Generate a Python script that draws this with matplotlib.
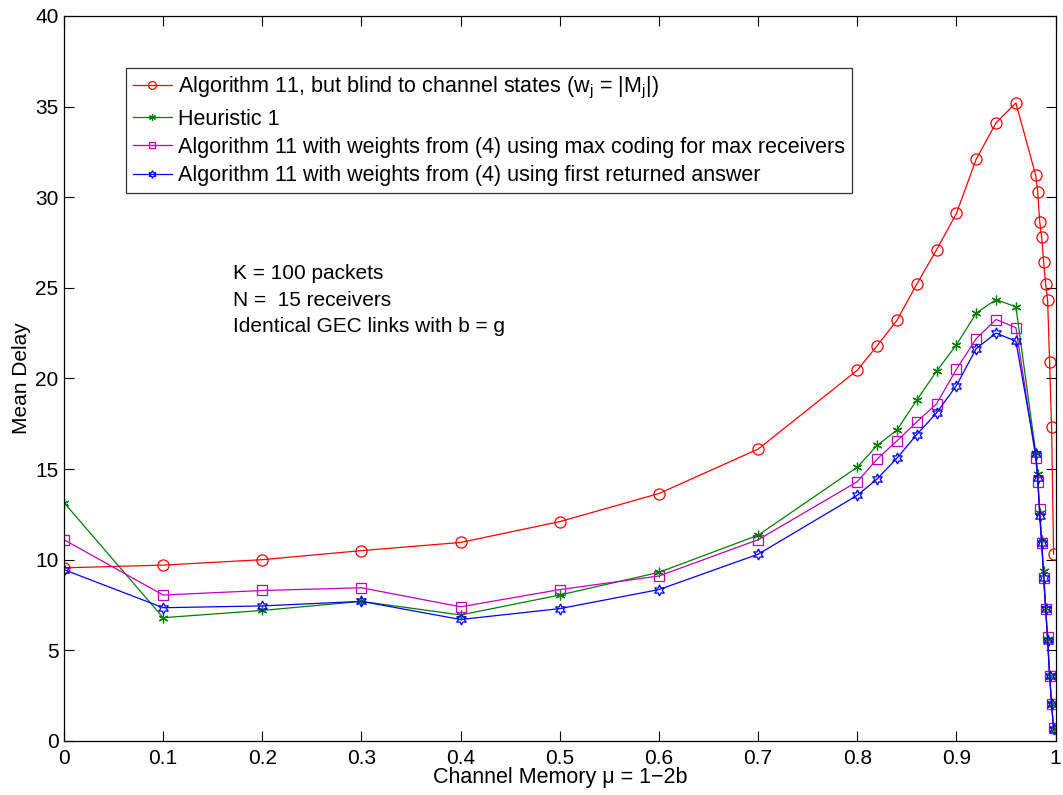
import matplotlib
matplotlib.use('Agg')
import matplotlib.pyplot as plt
import numpy as np

plt.rcParams['font.family'] = ['Liberation Sans', 'DejaVu Sans']
plt.rcParams['mathtext.fontset'] = 'custom'
plt.rcParams['mathtext.rm'] = 'Liberation Sans'
plt.rcParams['mathtext.it'] = 'Liberation Sans'

# channel memory values
mu = [0, 0.1, 0.2, 0.3, 0.4, 0.5, 0.6, 0.7, 0.8, 0.82, 0.84, 0.86, 0.88,
      0.9, 0.92, 0.94, 0.96, 0.98, 0.982, 0.984, 0.986, 0.988, 0.99,
      0.992, 0.994, 0.996, 0.998]

blind = [9.55, 9.7, 10.0, 10.5, 10.95, 12.1, 13.65, 16.1, 20.45, 21.8, 23.2,
         25.2, 27.1, 29.1, 32.1, 34.1, 35.2, 31.2, 30.3, 28.65, 27.8, 26.4,
         25.2, 24.3, 20.9, 17.3, 10.3]
heur = [13.15, 6.8, 7.2, 7.7, 6.95, 8.05, 9.3, 11.35, 15.1, 16.3, 17.15,
        18.8, 20.4, 21.85, 23.6, 24.35, 23.95, 15.9, 14.7, 12.6, 11.1, 9.35,
        7.35, 5.6, 3.6, 2.05, 0.65]
maxcod = [11.1, 8.05, 8.3, 8.45, 7.4, 8.35, 9.1, 11.1, 14.3, 15.55, 16.55,
          17.6, 18.6, 20.5, 22.2, 23.25, 22.8, 15.6, 14.3, 12.8, 10.9, 9.0,
          7.3, 5.75, 3.6, 2.05, 0.7]
first = [9.45, 7.35, 7.45, 7.7, 6.7, 7.3, 8.35, 10.3, 13.55, 14.45, 15.6,
         16.9, 18.1, 19.6, 21.65, 22.5, 22.05, 15.85, 14.5, 12.4, 10.9, 9.0,
         7.3, 5.5, 3.6, 2.05, 0.65]

labels = ['Algorithm 11, but blind to channel states (w$_\\mathregular{j}$ = |M$_\\mathregular{j}$|)',
          'Heuristic 1',
          'Algorithm 11 with weights from (4) using max coding for max receivers',
          'Algorithm 11 with weights from (4) using first returned answer']

fig = plt.figure(figsize=(10.63, 7.95), dpi=100)
ax = fig.add_axes([0.0602, 0.068, 0.9328, 0.912])

lw = 0.9
ax.plot(mu, blind, color='#ff0000', lw=lw, marker='o', ms=8, mfc='none',
        mew=0.9, label=labels[0])
ax.plot(mu, heur, color='#008000', lw=lw, marker=(6, 2, 0), ms=7,
        mew=0.9, label=labels[1])
ax.plot(mu, maxcod, color='#bf00bf', lw=lw, marker='s', ms=7, mfc='none',
        mew=0.9, label=labels[2])
ax.plot(mu, first, color='#0000ff', lw=lw, marker=(6, 1, 0), ms=8, mfc='none',
        mew=0.9, label=labels[3])

ax.set_xlim(0, 1)
ax.set_ylim(0, 40)
ax.set_xticks(np.arange(0, 1.01, 0.1))
ax.set_xticklabels(['0', '0.1', '0.2', '0.3', '0.4', '0.5', '0.6', '0.7',
                    '0.8', '0.9', '1'])
ax.set_yticks(np.arange(0, 41, 5))
ax.tick_params(direction='in', top=True, right=True, labelsize=15,
               length=7, width=0.8)
ax.tick_params(axis='x', pad=6)
ax.tick_params(axis='y', pad=4)
for s in ax.spines.values():
    s.set_linewidth(0.9)

ax.set_xlabel('Channel Memory μ = 1\u22122b', fontsize=15.5, labelpad=-1)
ax.set_ylabel('Mean Delay', fontsize=15, labelpad=3)

ax.text(0.17, 22.57, 'K = 100 packets\nN =  15 receivers\nIdentical GEC links with b = g',
        fontsize=15, va='baseline', ha='left', linespacing=1.48)

leg = ax.legend(loc='upper left', bbox_to_anchor=(0.0625, 0.928), fontsize=15.5,
                frameon=True, fancybox=False, edgecolor='black',
                handlelength=1.8, handletextpad=0.28, borderpad=0.33,
                labelspacing=0.34, markerscale=0.7, borderaxespad=0)
leg.get_frame().set_linewidth(0.9)

fig.savefig('out.png', dpi=100)
